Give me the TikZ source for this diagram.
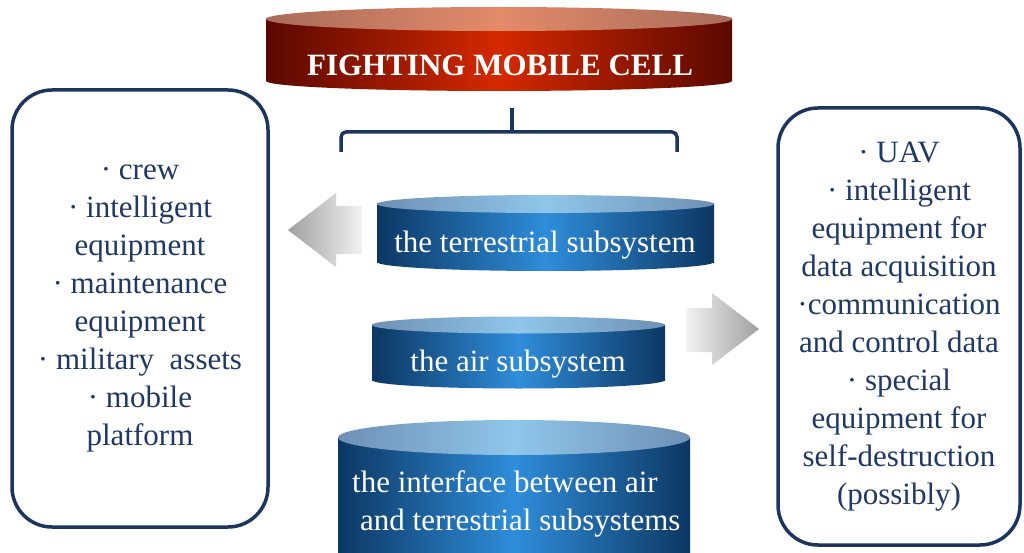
\documentclass[tikz,border=0pt]{standalone}
\usepackage{fontspec}
\setmainfont{Liberation Serif}
\usepackage{tikz}

\begin{document}
\begin{tikzpicture}[x=1pt, y=-1pt]
	\definecolor{navy}{HTML}{1F3864}
	\definecolor{navyline}{HTML}{1C355E}
	\definecolor{bluedark}{HTML}{0C3763}
	\definecolor{bluemid}{HTML}{2F8DDA}
	\definecolor{lidedge}{HTML}{6F90B5}
	\definecolor{lidmid}{HTML}{8FC6EA}
	\definecolor{reddark}{HTML}{5A0800}
	\definecolor{redmid}{HTML}{D52900}
	\definecolor{rlidedge}{HTML}{A96C5B}
	\definecolor{rlidmid}{HTML}{E38A69}
	\tikzset{
		itembox/.style={draw=navyline, line width=3.5pt, rounded corners=40pt, align=center,
			text=navy, font=\fontsize{31}{38}\selectfont},
		cyltext/.style={text=white, font=\fontsize{31}{38}\selectfont, inner sep=0pt}
	}
	\useasboundingbox (0,0) rectangle (1024,553);

	% the red cylinder on top
	\shade[left color=reddark, right color=reddark, middle color=redmid] (266,19) rectangle (732,81);
	\shade[left color=reddark, right color=reddark, middle color=redmid] (499,81) ellipse [x radius=233, y radius=10];
	\shade[left color=rlidedge, right color=rlidedge, middle color=rlidmid] (499,19) ellipse [x radius=233, y radius=12];
	\node[cyltext, font=\fontsize{31}{38}\selectfont\bfseries, anchor=base] (fmc) at (500,76) {FIGHTING MOBILE CELL};

	% the bracket under it
	\draw[navyline, line width=3.5pt, rounded corners=5pt] (341,152) -- (341,132) -- (677,132) -- (677,152);
	\draw[navyline, line width=3.5pt] (512,133) -- (512,108);

	% the blue cylinders
	\foreach \cx/\ct/\rx/\ry/\cb in {545.5/204/168.5/9/262, 518.5/325/146.5/8.5/380, 514/437.5/176/17.5/620}{
		\shade[left color=bluedark, right color=bluedark, middle color=bluemid] (\cx-\rx,\ct) rectangle (\cx+\rx,\cb);
		\shade[left color=bluedark, right color=bluedark, middle color=bluemid] (\cx,\cb) ellipse [x radius=\rx, y radius=\ry];
		\shade[left color=lidedge, right color=lidedge, middle color=lidmid] (\cx,\ct) ellipse [x radius=\rx, y radius=\ry];
	}
	\node[cyltext, anchor=base] (terr) at (545,252) {the terrestrial subsystem};
	\node[cyltext, anchor=base] (air) at (518,371) {the air subsystem};
	\node[cyltext, anchor=base west] (iface) at (352,492) {the interface between air};
	\node[cyltext, anchor=base west] (iface2) at (360,530) {and terrestrial subsystems};

	% gray block arrows
	\shade[left color=gray!75, right color=gray!10] (288,230) -- (336,193) -- (336,206) -- (362,206)
		-- (362,254) -- (336,254) -- (336,267) -- cycle;
	\shade[left color=gray!10, right color=gray!75] (759,329) -- (712,293) -- (712,308) -- (686,308)
		-- (686,352) -- (712,352) -- (712,365) -- cycle;

	% the two lists
	\node[itembox, minimum width=256pt, minimum height=437pt] (crewbox) at (140,308.5)
		{·~crew\\ ·~intelligent\\ equipment\\ ·~maintenance\\ equipment\\ ·~military~~assets\\ ·~mobile\\ platform};
	\node[itembox, minimum width=242pt, minimum height=437pt] (uavbox) at (899,326.5)
		{·~UAV\\ ·~intelligent\\ equipment for\\ data acquisition\\ ·communication\\ and control data\\ ·~special\\ equipment for\\ self-destruction\\ (possibly)};
\end{tikzpicture}
\end{document}
